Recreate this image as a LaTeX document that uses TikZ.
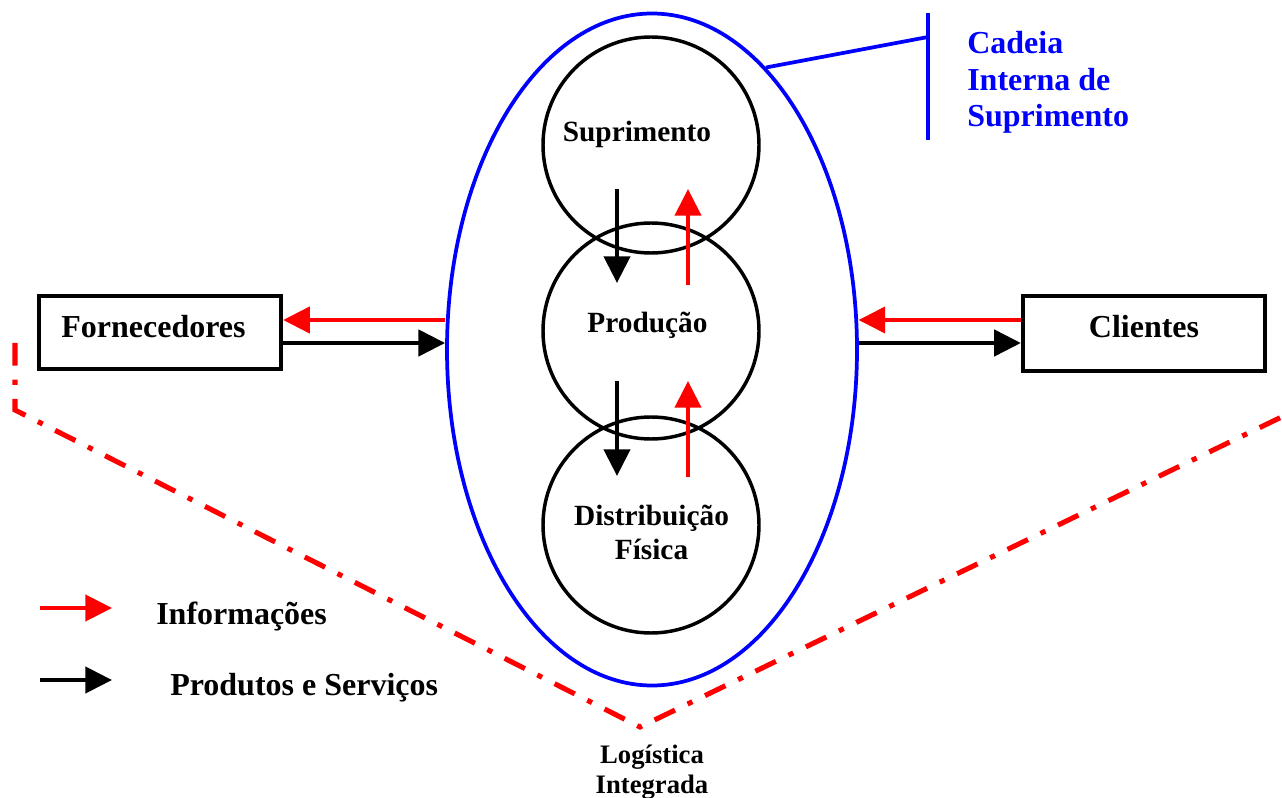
\documentclass[tikz,border=0pt]{standalone}
\usepackage{fontspec}
\setmainfont{Liberation Serif}
\usetikzlibrary{arrows.meta,shapes.geometric,calc}

\definecolor{infored}{RGB}{255,0,0}
\definecolor{chainblue}{RGB}{0,0,255}

\tikzset{
  tip/.style={-{Triangle[length=20pt,width=19.5pt]}},
  infoarrow/.style={tip, draw=infored, fill=infored, line width=3.2pt},
  flowarrow/.style={tip, draw=black, fill=black, line width=3.2pt},
  stage/.style={circle, draw=black, line width=2.6pt, minimum size=162pt, inner sep=0pt},
  partner/.style={rectangle, draw=black, line width=3.2pt, inner sep=0pt},
  bigtxt/.style={font=\fontsize{24}{27}\selectfont\bfseries, inner sep=0pt},
  stagetxt/.style={font=\fontsize{22}{24}\selectfont\bfseries, inner sep=0pt},
  logtxt/.style={font=\fontsize{20}{22.5}\selectfont\bfseries, inner sep=0pt},
  logline/.style={draw=infored, line width=3.8pt,
    dash pattern=on 17pt off 10.5pt on 4pt off 10.5pt},
}

\begin{document}
\begin{tikzpicture}[x=0.75pt,y=-0.75pt]
\useasboundingbox (0,0) rectangle (1282,798);

% integrated logistics boundary (dash-dot)
\coordinate (lgA) at (15,343);
\coordinate (lgB) at (15,410);
\coordinate (lgC) at (640,727);
\coordinate (lgD) at (1294,411);
\draw[logline] (lgA) -- (lgB) -- (lgC) -- (lgD);

% internal supply chain
\node[ellipse, draw=chainblue, line width=2.8pt, minimum width=307.5pt,
      minimum height=504pt, inner sep=0pt] (chain) at (652,349.5) {};

\node[stage] (sup)  at (651,145) {};
\node[stage] (prod) at (651,331) {};
\node[stage] (dist) at (651,525) {};

\node[stagetxt, anchor=base] (tsup) at (637,142) {Suprimento};
\node[stagetxt, anchor=base] (tprod) at (647.5,333) {Produção};
\node[stagetxt, anchor=base] (tdist1) at (651.5,525) {Distribuição};
\node[stagetxt, anchor=base] (tdist2) at (651.5,559) {Física};

% flows between stages
\draw[flowarrow] ($(sup.center)+(-34,44)$) -- ($(prod.center)+(-34,-48)$);
\draw[infoarrow] ($(prod.center)+(37,-46)$) -- ($(sup.center)+(37,44)$);
\draw[flowarrow] ($(prod.center)+(-34,50)$) -- ($(dist.center)+(-34,-49)$);
\draw[infoarrow] ($(dist.center)+(37,-48)$) -- ($(prod.center)+(37,50)$);

% suppliers and customers
\node[partner, minimum width=181.5pt, minimum height=54.75pt] (forn) at (160,332.5) {};
\node[bigtxt, anchor=base] (tforn) at (153.5,338) {Fornecedores};
\node[partner, minimum width=181.5pt, minimum height=56.25pt] (cli) at (1144,333.5) {};
\node[bigtxt, anchor=base] (tcli) at (1144,338) {Clientes};

\draw[infoarrow] ($(chain.west)+(0.3,-29.5)$) -- ($(forn.east)+(0,-12.5)$);
\draw[flowarrow] ($(forn.east)+(0,10.5)$) -- ($(chain.west)+(0,-6.5)$);
\draw[infoarrow] ($(cli.west)+(0,-13.5)$) -- ($(chain.east)+(-0.3,-29.5)$);
\draw[flowarrow] ($(chain.east)+(0,-6.5)$) -- ($(cli.west)+(0,9.5)$);

% callout for the internal chain
\coordinate (bartop) at (928,13);
\coordinate (barmid) at (928,37);
\coordinate (barbot) at (928,140);
\draw[chainblue, line width=2.8pt] (chain.68.6) -- (barmid);
\draw[chainblue, line width=2.8pt] (bartop) -- (barbot);
\node[bigtxt, text=chainblue, anchor=base west] (c1) at (967,54) {Cadeia};
\node[bigtxt, text=chainblue, anchor=base west] (c2) at (967,91) {Interna de};
\node[bigtxt, text=chainblue, anchor=base west] (c3) at (967,127) {Suprimento};

% legend
\coordinate (leg1a) at (40,608);
\coordinate (leg1b) at (112,608);
\coordinate (leg2a) at (40,680);
\coordinate (leg2b) at (112,680);
\draw[infoarrow] (leg1a) -- (leg1b);
\draw[flowarrow] (leg2a) -- (leg2b);
\node[bigtxt, anchor=base west] (tinfo) at (156,624) {Informações};
\node[bigtxt, anchor=base west] (tprodserv) at (170,695) {Produtos e Serviços};

% integrated logistics label
\node[logtxt, anchor=base] (tlog1) at (652,763) {Logística};
\node[logtxt, anchor=base] (tlog2) at (652,793) {Integrada};
\end{tikzpicture}
\end{document}
